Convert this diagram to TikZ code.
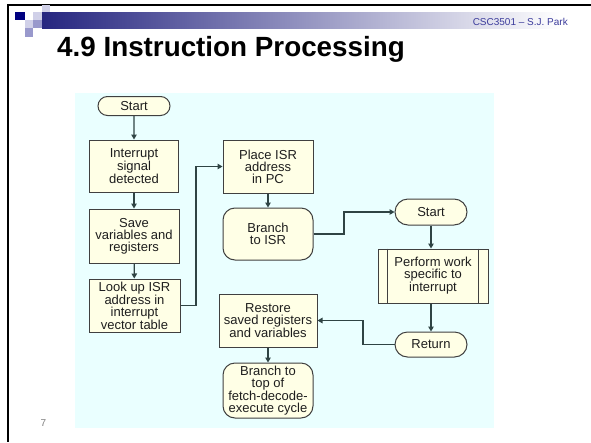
\documentclass[tikz,border=0pt]{standalone}
\usepackage{fontspec}
\setmainfont{Liberation Sans}
\usetikzlibrary{arrows.meta,shapes.misc}
\definecolor{ln}{HTML}{2F4444}
\definecolor{bordc}{HTML}{404040}
\definecolor{fillc}{HTML}{FFFFE6}
\definecolor{bgc}{HTML}{EAFFFF}
\definecolor{navyA}{HTML}{000080}
\definecolor{navyB}{HTML}{262680}
\definecolor{lavL}{HTML}{D0D0E8}
\definecolor{lavM}{HTML}{9999CC}
\definecolor{hdrtxt}{HTML}{3C3C9C}
\definecolor{txtc}{HTML}{1E1E1E}
\newcommand{\boxfont}{\fontsize{13}{12}\selectfont}
\tikzset{
  box/.style={draw=bordc, fill=fillc, line width=1pt, inner sep=0pt, align=center, font=\boxfont, text=txtc},
  rbox/.style={box, rounded corners=12pt},
  pill/.style={box, rounded rectangle},
  arr/.style={draw=ln, line width=1.2pt, -{Triangle[length=5pt,width=5.5pt]}},
}
\begin{document}
\begin{tikzpicture}[x=1pt,y=-1pt]
\useasboundingbox (0,0) rectangle (591,442);
\fill[white] (0,0) rectangle (591,442);
% slide frame
\fill[black] (7,3.5) rectangle (591,5.5);
\fill[black] (7,3.5) rectangle (9,442);
% header squares
\fill[navyA] (15,12) rectangle (25,20);
\fill[lavL] (33,12) rectangle (42,20);
\fill[lavL] (42,5) rectangle (50,12);
\fill[lavL] (25,20) rectangle (33,28);
\fill[lavM] (33,20) rectangle (42,28);
\fill[lavM] (25,28) rectangle (33,37);
\shade[left color=navyB, right color=white] (42,12) rectangle (560,28);
% header texts
\node[anchor=base east, inner sep=0pt, font=\fontsize{10}{12}\selectfont, text=hdrtxt] (hdr) at (568,25) {CSC3501 – S.J. Park};
\node[anchor=base west, inner sep=0pt, font=\fontsize{27.8}{30}\selectfont\bfseries] (title) at (57,56) {4.9 Instruction Processing};
\node[inner sep=0pt, font=\fontsize{10}{12}\selectfont, text=gray] (pnum) at (43.5,423.5) {7};
% diagram background
\fill[bgc] (75,93) rectangle (494,428);
% nodes
\node[pill, minimum width=72pt, minimum height=19pt] (start1) at (134,106) {Start};
\node[box, minimum width=89pt, minimum height=52pt] (interrupt) at (134,166) {Interrupt\\signal\\detected};
\node[box, minimum width=90pt, minimum height=54pt] (save) at (134,236) {Save\\variables and\\registers};
\node[box, minimum width=91pt, minimum height=53pt] (lookup) at (134.5,305.5) {Look up ISR\\address in\\interrupt\\vector table};
\node[box, minimum width=90pt, minimum height=53pt] (place) at (268,166.5) {Place ISR\\address\\in PC};
\node[rbox, minimum width=90pt, minimum height=52pt] (branch) at (268,234) {Branch\\to ISR};
\node[pill, minimum width=72pt, minimum height=26pt] (start2) at (431,212) {Start};
\node[box, minimum width=110pt, minimum height=54pt] (perform) at (433,276) {Perform work\\specific to\\interrupt};
\draw[draw=bordc, line width=1pt] ([xshift=10pt]perform.north west) -- ([xshift=10pt]perform.south west);
\draw[draw=bordc, line width=1pt] ([xshift=-10pt]perform.north east) -- ([xshift=-10pt]perform.south east);
\node[pill, minimum width=72pt, minimum height=25pt] (return) at (431,344.5) {Return};
\node[box, minimum width=98pt, minimum height=53pt] (restore) at (268,320.5) {Restore\\saved registers\\and variables};
\node[rbox, minimum width=90pt, minimum height=55pt] (branchtop) at (268,390.5) {Branch to\\top of\\fetch-decode-\\execute cycle};
% connectors
\coordinate (c1) at (196,305.5);
\coordinate (c2) at (344,234);
\coordinate (c3) at (363,344.5);
\draw[arr] (start1) -- (interrupt);
\draw[arr] (interrupt) -- (save);
\draw[arr] (save) -- (lookup);
\draw[arr] (lookup.east) -- (c1) |- (place.west);
\draw[arr] (place) -- (branch);
\draw[arr] (branch.east) -- (c2) |- (start2.west);
\draw[arr] (start2.south) -- (start2.south |- perform.north);
\draw[arr] (return.north |- perform.south) -- (return.north);
\draw[arr] (return.west) -- (c3) |- (restore.east);
\draw[arr] (restore) -- (branchtop);
\end{tikzpicture}
\end{document}
